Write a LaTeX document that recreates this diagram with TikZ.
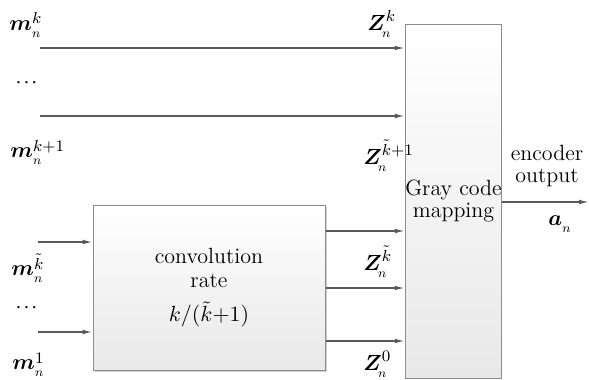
\documentclass[tikz,border=0pt]{standalone}
\usepackage{amsmath,bm,graphicx}
\usetikzlibrary{arrows.meta,shadows}
\newcommand{\vlab}[5]{$#1\rlap{\raisebox{-3.6pt}{$\mkern#5mu\scalebox{0.8}{$\scriptstyle #4$}$}}\raisebox{#3}{$\scriptstyle #2$}$}
\begin{document}
\begin{tikzpicture}[x=0.5pt,y=-0.5pt,
  font=\fontsize{11}{13}\selectfont,
  arr/.style={draw=black!65, line width=0.7pt, -{Latex[length=5pt,width=2.4pt]}},
  blockbox/.style={draw=black!45, line width=0.5pt, top color=white, bottom color=black!9, inner sep=0pt, align=center},
  lbl/.style={inner sep=0pt, anchor=base west}]
\useasboundingbox (0,0) rectangle (589,380);
% blocks
\node[blockbox, minimum width=116pt, minimum height=82.5pt,
  drop shadow={shadow xshift=1.2pt, shadow yshift=-1.2pt, fill=black!30, opacity=0.6}]
  (conv) at (209,287.5) {};
\node[inner sep=0pt, align=center] (convtxt) at (209,288) {convolution\\[-1pt] rate\\[4pt] $k/(\tilde{k}{+}1)$};
\node[blockbox, minimum width=46.5pt, minimum height=177pt] (gray) at (453.5,201) {Gray code\\[-2pt] mapping};
% free ends
\coordinate (i1) at (40,48);
\coordinate (i2) at (40,116);
\coordinate (i3) at (38,242);
\coordinate (i4) at (38,332);
\coordinate (c1) at (0,231);
\coordinate (c2) at (0,288);
\coordinate (c3) at (0,341);
\coordinate (out) at (589,202);
% connectors
\draw[arr] (i1) -- (i1 -| gray.west);
\draw[arr] (i2) -- (i2 -| gray.west);
\draw[arr] (i3) -- (i3 -| conv.west);
\draw[arr] (i4) -- (i4 -| conv.west);
\draw[arr] (c1 -| conv.east) -- (c1 -| gray.west);
\draw[arr] (c2 -| conv.east) -- (c2 -| gray.west);
\draw[arr] (c3 -| conv.east) -- (c3 -| gray.west);
\draw[arr] (out -| gray.east) -- (out);
% labels
\node[lbl] (m1) at (9,30) {\vlab{\bm{m}}{k}{3pt}{n}{0}};
\node[inner sep=0pt] (d1) at (28,83) {\scalebox{0.7}{$\bm{\cdots}$}};
\node[lbl] (m2) at (10,157) {\vlab{\bm{m}}{k+1}{2.6pt}{n}{0}};
\node[lbl] (m3) at (11,275) {\vlab{\bm{m}}{\tilde{k}}{3pt}{n}{0}};
\node[inner sep=0pt] (d2) at (28,308) {\scalebox{0.7}{$\bm{\cdots}$}};
\node[lbl] (m4) at (12,369) {\vlab{\bm{m}}{1}{2.8pt}{n}{0}};
\node[lbl] (z1) at (367,30) {\vlab{\bm{Z}}{k}{4.5pt}{n}{-3}};
\node[lbl] (z2) at (363,164) {\vlab{\bm{Z}}{\tilde{k}+1}{4.5pt}{n}{-3}};
\node[lbl] (z3) at (363,270) {\vlab{\bm{Z}}{\tilde{k}}{4.5pt}{n}{-3}};
\node[lbl] (z4) at (363,370) {\vlab{\bm{Z}}{0}{4.5pt}{n}{-3}};
\node[inner sep=0pt, align=center] (enc) at (547,166) {encoder\\[-2pt] output};
\node[lbl] (an) at (548,225) {\vlab{\bm{a}}{}{0pt}{n}{0}};
\end{tikzpicture}
\end{document}
